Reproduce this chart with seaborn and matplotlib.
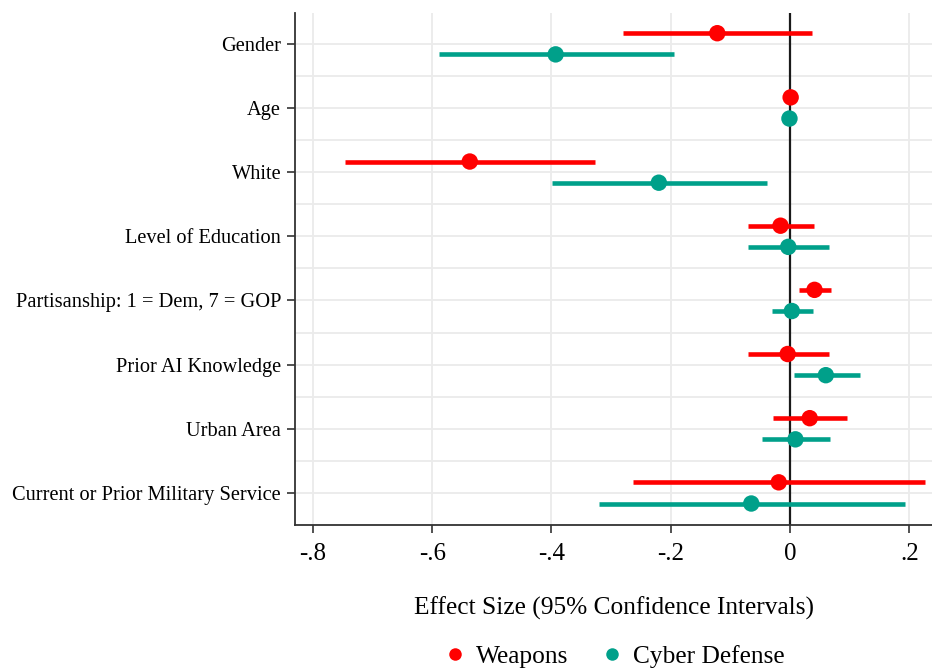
import numpy as np
import pandas as pd
import matplotlib
matplotlib.use("Agg")
import matplotlib.pyplot as plt
import seaborn as sns
from matplotlib.lines import Line2D

categories = ["Gender", "Age", "White", "Level of Education",
              "Partisanship: 1 = Dem, 7 = GOP", "Prior AI Knowledge",
              "Urban Area", "Current or Prior Military Service"]
series = ["Weapons", "Cyber Defense"]

weapons_coef = [-0.122, 0.001, -0.537, -0.016, 0.041, -0.004, 0.033, -0.019]
weapons_lo   = [-0.280, 0.001, -0.747, -0.071, 0.015, -0.071, -0.028, -0.263]
weapons_hi   = [0.037, 0.001, -0.327, 0.040, 0.068, 0.065, 0.096, 0.227]

cyber_coef = [-0.393, -0.001, -0.220, -0.003, 0.003, 0.060, 0.009, -0.065]
cyber_lo   = [-0.589, -0.001, -0.399, -0.070, -0.031, 0.006, -0.047, -0.320]
cyber_hi   = [-0.195, -0.001, -0.039, 0.065, 0.038, 0.117, 0.067, 0.193]

xticks = [-0.8, -0.6, -0.4, -0.2, 0.0, 0.2]
xtick_labels = ["-.8", "-.6", "-.4", "-.2", "0", ".2"]

colors = {"Weapons": "#FF0000", "Cyber Defense": "#00A08A"}
offsets = {"Weapons": -0.165, "Cyber Defense": 0.165}

rows = []
for s, coef, lo, hi in [("Weapons", weapons_coef, weapons_lo, weapons_hi),
                        ("Cyber Defense", cyber_coef, cyber_lo, cyber_hi)]:
    for i, c in enumerate(categories):
        rows.append(dict(category=c, model=s, coef=coef[i], lo=lo[i], hi=hi[i],
                         ypos=i + offsets[s]))
df = pd.DataFrame(rows)

sns.set_theme(style="white")
plt.rcParams['font.family'] = ['Liberation Serif', 'DejaVu Serif']
plt.rcParams['text.color'] = 'black'
plt.rcParams['xtick.color'] = 'black'
plt.rcParams['ytick.color'] = 'black'
plt.rcParams['axes.labelcolor'] = 'black'

fig = plt.figure(figsize=(9.32, 6.68), dpi=100)
ax = fig.add_axes([295/932, 1 - 525/668, 1 - 295/932, (525 - 13)/668])

# grid
for x in xticks:
    ax.axvline(x, color="#ebebeb", lw=1.3, zorder=0)
for y in np.arange(-0.5, len(categories) + 0.5, 0.5):
    ax.axhline(y, color="#ebebeb", lw=1.3, zorder=0)
ax.axvline(0, color="#1a1a1a", lw=1.6, zorder=1)

for s in series:
    d = df[df.model == s]
    ax.hlines(d.ypos, d.lo, d.hi, color=colors[s], lw=3.3, zorder=2)

sns.scatterplot(data=df, x="coef", y="ypos", hue="model", palette=colors,
                hue_order=series, s=140, edgecolor="none", zorder=3,
                legend=False, ax=ax)

ax.set_xlim(-0.83, 0.238)
ax.set_ylim(len(categories) - 0.5, -0.48)
ax.set_yticks(range(len(categories)))
ax.set_yticklabels(categories, fontsize=14.7)
ax.set_xticks(xticks)
ax.set_xticklabels(xtick_labels, fontsize=18)
ax.set_xlabel("Effect Size (95% Confidence Intervals)", fontsize=18.3, labelpad=23)
ax.set_ylabel("")

for sp in ["top", "right"]:
    ax.spines[sp].set_visible(False)
for sp in ["left", "bottom"]:
    ax.spines[sp].set_color("#333333")
    ax.spines[sp].set_linewidth(1.3)
ax.tick_params(axis="both", which="major", direction="out", length=6, width=1.2,
               color="#333333", bottom=True, left=True)
ax.tick_params(axis="x", pad=7)
ax.tick_params(axis="y", pad=4)

handles = [Line2D([], [], marker="o", linestyle="none", markersize=9,
                  markerfacecolor=colors[s], markeredgecolor="none") for s in series]
ax.legend(handles, series, loc="center", bbox_to_anchor=(0.5, -0.257), ncol=2,
          frameon=False, fontsize=18.3, handlelength=1.0, handletextpad=0.3,
          columnspacing=1.25)

fig.savefig("out.png", dpi=100)
